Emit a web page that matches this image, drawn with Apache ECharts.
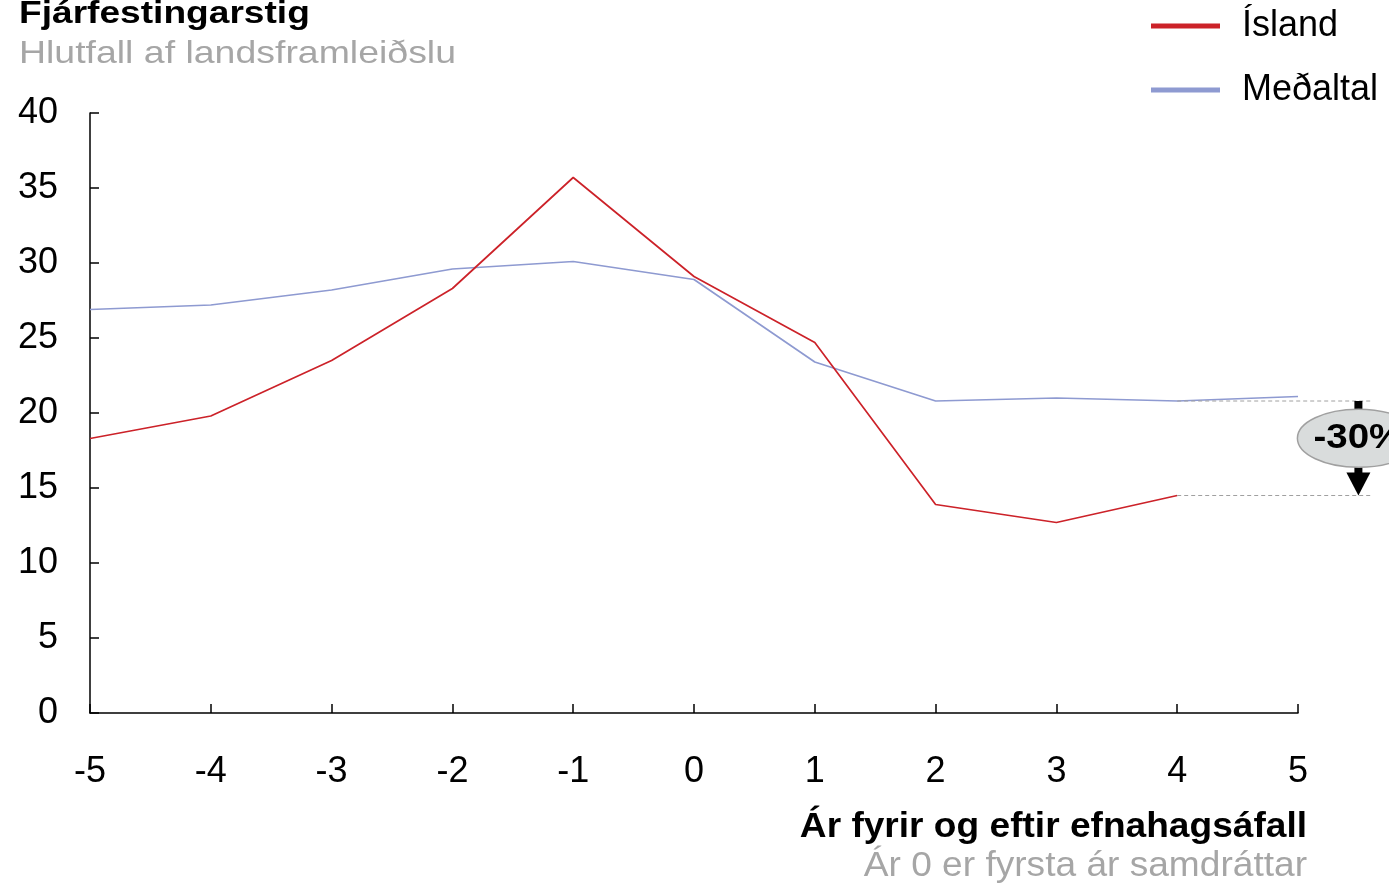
<!DOCTYPE html>
<html>
<head>
    <meta charset="utf-8">
    <title>Fjárfestingarstig</title>
    <script src="https://cdn.jsdelivr.net/npm/echarts@6/dist/echarts.min.js"></script>
    <style>
        html, body { margin: 0; padding: 0; background: #fff; }
    </style>
</head>
<body>
<div id="chart" style="width: 1389px; height: 884px;"></div>
<script>
    // Ár fyrir og eftir efnahagsáfall
    var years = [-5, -4, -3, -2, -1, 0, 1, 2, 3, 4, 5];
    // Ísland (hlutfall af VLF), ekkert gildi fyrir ár 5
    var island = [18.3, 19.8, 23.5, 28.3, 35.7, 29.1, 24.7, 13.9, 12.7, 14.5, null];
    // Meðaltal
    var medaltal = [26.9, 27.2, 28.2, 29.6, 30.1, 28.9, 23.4, 20.8, 21.0, 20.8, 21.1];
    var yTicks = [0, 5, 10, 15, 20, 25, 30, 35, 40];
    var changeLabel = '-30%';

    var font = '"Liberation Sans", Arial, sans-serif';

    function pairs(values) {
        return years.map(function (x, i) {
            return [x, values[i]];
        });
    }

    var chart = echarts.init(document.getElementById('chart'));

    var option = {
        animation: false,
        textStyle: { fontFamily: font },
        legend: {
            orient: 'vertical',
            left: 1151,
            top: 8,
            padding: 0,
            itemWidth: 69,
            itemHeight: 5,
            itemGap: 28,
            icon: 'rect',
            textStyle: { fontFamily: font, fontSize: 36, color: '#000', padding: [0, 0, 0, 17] },
            data: ['Ísland', 'Meðaltal']
        },
        grid: {
            left: 90,
            right: 91,
            top: 113,
            bottom: 171,
            containLabel: false
        },
        xAxis: {
            type: 'value',
            min: -5,
            max: 5,
            interval: 1,
            axisLine: { onZero: false, lineStyle: { color: '#000', width: 1.5 } },
            axisTick: { inside: true, length: 9, lineStyle: { color: '#000', width: 1.5 } },
            axisLabel: { color: '#000', fontSize: 36, margin: 41, fontFamily: font },
            splitLine: { show: false }
        },
        yAxis: {
            type: 'value',
            min: yTicks[0],
            max: yTicks[yTicks.length - 1],
            interval: 5,
            axisLine: { show: true, onZero: false, lineStyle: { color: '#000', width: 1.5 } },
            axisTick: { show: true, inside: true, length: 9, lineStyle: { color: '#000', width: 1.5 } },
            axisLabel: { color: '#000', fontSize: 36, margin: 32, fontFamily: font },
            splitLine: { show: false }
        },
        series: [
            {
                name: 'Ísland',
                type: 'line',
                data: pairs(island),
                symbol: 'none',
                lineStyle: { color: '#cc2229', width: 1.7 },
                itemStyle: { color: '#cc2229' },
                z: 3
            },
            {
                name: 'Meðaltal',
                type: 'line',
                data: pairs(medaltal),
                symbol: 'none',
                lineStyle: { color: '#8e9ad1', width: 1.7 },
                itemStyle: { color: '#8e9ad1' },
                z: 2
            }
        ]
    };

    chart.setOption(option);

    // Skýring: bil milli meðaltals og Íslands á ári 4
    var yTop = medaltal[9];
    var yBot = island[9];
    var pStart = chart.convertToPixel({ gridIndex: 0 }, [4, yTop]);
    var pEnd = chart.convertToPixel({ gridIndex: 0 }, [5.6, yBot]);
    var pArrow = chart.convertToPixel({ gridIndex: 0 }, [5.5, yTop]);
    var pLow = chart.convertToPixel({ gridIndex: 0 }, [5.5, yBot]);
    var ax = pArrow[0];
    var cy = (pArrow[1] + pLow[1]) / 2 - 10;

    function label(text, x, y, size, opts) {
        return {
            type: 'text',
            x: x,
            y: y,
            scaleX: opts.scaleX || 1,
            style: {
                text: text,
                fontFamily: font,
                fontSize: size,
                fontWeight: opts.bold ? 'bold' : 'normal',
                fill: opts.color || '#000',
                align: opts.align || 'left',
                verticalAlign: 'middle'
            }
        };
    }

    chart.setOption({
        graphic: [
            label('Fjárfestingarstig', 19, 14, 32, { bold: true, scaleX: 1.16 }),
            label('Hlutfall af landsframleiðslu', 19, 54, 32, { color: '#a6a6a6', scaleX: 1.17 }),
            label('Ár fyrir og eftir efnahagsáfall', 1307, 827, 35, { bold: true, align: 'right', scaleX: 1.06 }),
            label('Ár 0 er fyrsta ár samdráttar', 1307, 866, 35, { color: '#a6a6a6', align: 'right', scaleX: 1.06 }),
            {
                type: 'line',
                shape: { x1: pStart[0], y1: pArrow[1], x2: pEnd[0], y2: pArrow[1] },
                style: { stroke: '#a0a0a0', lineWidth: 1, lineDash: [4, 3] },
                z: 10
            },
            {
                type: 'line',
                shape: { x1: pStart[0], y1: pLow[1], x2: pEnd[0], y2: pLow[1] },
                style: { stroke: '#a0a0a0', lineWidth: 1, lineDash: [4, 3] },
                z: 10
            },
            {
                type: 'rect',
                shape: { x: ax - 4, y: pArrow[1], width: 8, height: pLow[1] - pArrow[1] - 22 },
                style: { fill: '#000' },
                z: 11
            },
            {
                type: 'polygon',
                shape: { points: [[ax - 12, pLow[1] - 23], [ax + 12, pLow[1] - 23], [ax, pLow[1]]] },
                style: { fill: '#000' },
                z: 11
            },
            {
                type: 'ellipse',
                shape: { cx: ax, cy: cy, rx: 61, ry: 29 },
                style: { fill: '#d9dcdc', stroke: '#a0a0a0', lineWidth: 1.5 },
                z: 12
            },
            {
                type: 'text',
                x: ax,
                y: cy,
                scaleX: 1.1,
                style: {
                    text: changeLabel,
                    fontFamily: font,
                    fontSize: 35,
                    fontWeight: 'bold',
                    fill: '#000',
                    align: 'center',
                    verticalAlign: 'middle'
                },
                z: 13
            }
        ]
    });
</script>
</body>
</html>
